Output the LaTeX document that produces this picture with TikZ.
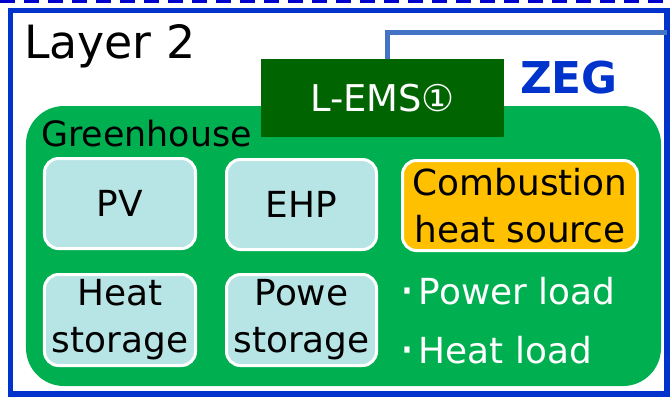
\documentclass[tikz,border=0pt]{standalone}
\usepackage{fontspec}
\usepackage{graphicx}
\setmainfont{DejaVu Sans}
\definecolor{frameblue}{RGB}{0,51,204}
\definecolor{dashblue}{RGB}{0,0,204}
\definecolor{zegline}{RGB}{68,114,196}
\definecolor{ghgreen}{RGB}{0,176,80}
\definecolor{emsgreen}{RGB}{0,100,0}
\definecolor{devcyan}{RGB}{183,228,228}
\definecolor{combor}{RGB}{255,192,0}
\newcommand{\loaddot}{\raisebox{-4.5bp}{\scalebox{1.4}{·}}\hspace{4bp}}
\tikzset{
  devbox/.style={draw=white, line width=3bp, fill=devcyan, rounded corners=14bp,
    inner sep=0pt, outer sep=0pt, align=center, text=black,
    font=\fontsize{36}{47}\selectfont},
  lbl/.style={inner sep=0pt, outer sep=0pt, anchor=base west},
}
\begin{document}
\begin{tikzpicture}[x=1bp, y=-1bp]
\useasboundingbox (0,0) rectangle (670,396);
\fill[white] (0,0) rectangle (670,396);
% top dashed line
\coordinate (dA) at (0,0.5);
\coordinate (dB) at (670,0.5);
\draw[dashblue, line width=5bp, dash pattern=on 15bp off 9bp] (dA) -- (dB);
% layer frame
\draw[frameblue, line width=5.5bp] (10.5,10.5) rectangle (667,394);
% ZEG frame line
\coordinate (zA) at (387.5,62);
\coordinate (zB) at (387.5,32.5);
\coordinate (zC) at (667,32.5);
\draw[zegline, line width=4.5bp] (zA) -- (zB) -- (zC);
% greenhouse
\node[fill=ghgreen, rounded corners=38bp, inner sep=0pt, outer sep=0pt,
  minimum width=635bp, minimum height=280bp] (gh) at (343.5,246) {};
% L-EMS
\node[fill=emsgreen, inner sep=0pt, outer sep=0pt, minimum width=243bp,
  minimum height=78bp, text=white, font=\fontsize{37}{44}\selectfont] (ems) at (382.5,98) {L-EMS①};
% texts
\node[lbl, font=\fontsize{46}{55}\selectfont] (layer) at (24,58) {Layer 2};
\node[lbl, text=frameblue, font=\fontsize{44}{53}\selectfont\bfseries] (zeg) at (520,93) {ZEG};
\node[lbl, font=\fontsize{35}{42}\selectfont] (ghl) at (41,146) {Greenhouse};
% devices
\node[devbox, minimum width=151bp, minimum height=90bp] (pv) at (120,203.5) {PV};
\node[devbox, minimum width=150bp, minimum height=90bp] (ehp) at (301.5,204.5) {EHP};
\node[devbox, fill=combor, minimum width=235bp, minimum height=90bp] (comb) at (520,205.5) {Combustion\\heat source};
\node[devbox, minimum width=151bp, minimum height=91bp] (hs) at (120,320) {Heat\\storage};
\node[devbox, minimum width=150bp, minimum height=91bp] (ps) at (301.5,320) {Powe\\storage};
% loads
\node[lbl, text=white, font=\fontsize{36}{43}\selectfont] (pl) at (399,304) {\loaddot Power load};
\node[lbl, text=white, font=\fontsize{36}{43}\selectfont] (hl) at (399,363) {\loaddot Heat load};
\end{tikzpicture}
\end{document}
